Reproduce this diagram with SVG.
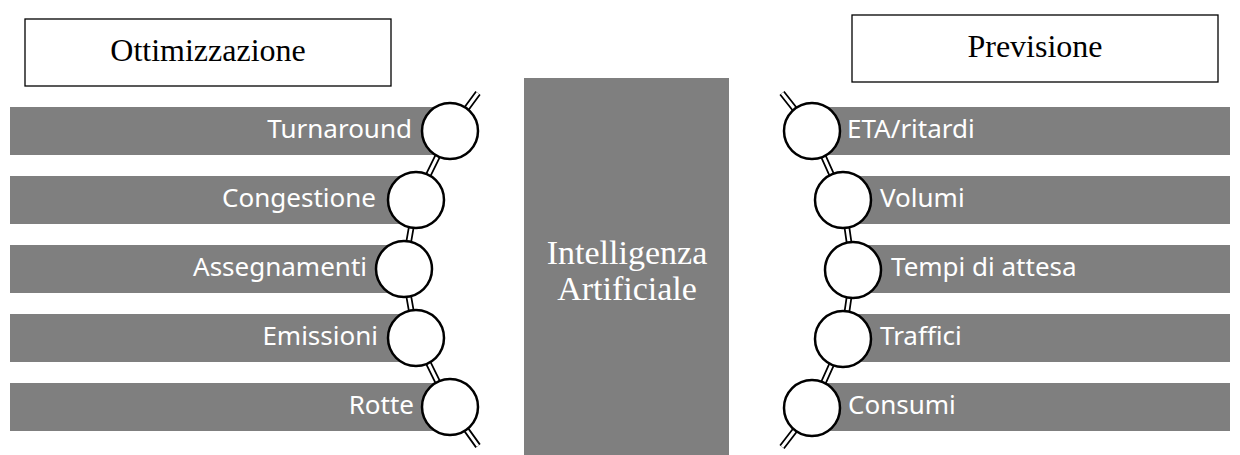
<svg xmlns="http://www.w3.org/2000/svg" width="1240" height="455" viewBox="0 0 1240 455">
<style>
.hdr{fill:#fff;stroke:#000;stroke-width:1.3}
.hdrt{font-family:"Liberation Serif",serif;font-size:32px;fill:#000;text-anchor:middle}
.bar{fill:#7f7f7f}
.lbl{font-family:"Noto Sans","Open Sans",sans-serif;font-size:26px;fill:#fff}
.circ{fill:#fff;stroke:#000;stroke-width:2.5}
.lo{fill:none;stroke:#000;stroke-width:6.5}
.li{fill:none;stroke:#fff;stroke-width:3}
.ai{fill:#7f7f7f}
.ait{font-family:"Liberation Serif",serif;font-size:34px;fill:#fff;text-anchor:middle}
</style>
<rect width="1240" height="455" fill="#fff"/>
<g id="hdr-ottimizzazione"><rect class="hdr" x="25" y="19" width="366" height="67"/><text class="hdrt" x="208" y="61">Ottimizzazione</text></g>
<g id="hdr-previsione"><rect class="hdr" x="852" y="15" width="366" height="67"/><text class="hdrt" x="1035" y="57">Previsione</text></g>
<g id="ai"><rect class="ai" x="524" y="78" width="205" height="380"/><text class="ait" x="627" y="264">Intelligenza</text><text class="ait" x="627" y="300">Artificiale</text></g>
<g id="bars-left">
<g id="turnaround"><rect class="bar" x="10" y="107" width="440" height="48"/><text class="lbl" x="412" y="138" text-anchor="end">Turnaround</text></g>
<g id="congestione"><rect class="bar" x="10" y="176" width="406" height="48"/><text class="lbl" x="376" y="207" text-anchor="end">Congestione</text></g>
<g id="assegnamenti"><rect class="bar" x="10" y="245" width="394" height="48"/><text class="lbl" x="367" y="276" text-anchor="end">Assegnamenti</text></g>
<g id="emissioni"><rect class="bar" x="10" y="314" width="406" height="48"/><text class="lbl" x="378" y="345" text-anchor="end">Emissioni</text></g>
<g id="rotte"><rect class="bar" x="10" y="383" width="440" height="48"/><text class="lbl" x="414" y="414" text-anchor="end">Rotte</text></g>
</g>
<g id="bars-right">
<g id="eta"><rect class="bar" x="812" y="107" width="418" height="48"/><text class="lbl" x="847" y="138">ETA/ritardi</text></g>
<g id="volumi"><rect class="bar" x="843" y="176" width="387" height="48"/><text class="lbl" x="880" y="207">Volumi</text></g>
<g id="tempi"><rect class="bar" x="853" y="245" width="377" height="48"/><text class="lbl" x="891" y="276">Tempi di attesa</text></g>
<g id="traffici"><rect class="bar" x="843" y="314" width="387" height="48"/><text class="lbl" x="880" y="345">Traffici</text></g>
<g id="consumi"><rect class="bar" x="812" y="383" width="418" height="48"/><text class="lbl" x="848" y="414">Consumi</text></g>
</g>
<g id="connectors">
<path class="lo" d="M478,93 L450,131 L416,200 L404,269 L416,338 L450,407 L478,446"/>
<path class="li" d="M478,93 L450,131 L416,200 L404,269 L416,338 L450,407 L478,446"/>
<path class="lo" d="M782,93 L812,131 L843,200 L853,270 L843,339 L812,408 L782,447"/>
<path class="li" d="M782,93 L812,131 L843,200 L853,270 L843,339 L812,408 L782,447"/>
</g>
<g id="circles-left">
<circle class="circ" cx="450" cy="131" r="28"/>
<circle class="circ" cx="416" cy="200" r="28"/>
<circle class="circ" cx="404" cy="269" r="28"/>
<circle class="circ" cx="416" cy="338" r="28"/>
<circle class="circ" cx="450" cy="407" r="28"/>
</g>
<g id="circles-right">
<circle class="circ" cx="812" cy="131" r="28"/>
<circle class="circ" cx="843" cy="200" r="28"/>
<circle class="circ" cx="853" cy="270" r="28"/>
<circle class="circ" cx="843" cy="339" r="28"/>
<circle class="circ" cx="812" cy="408" r="28"/>
</g>
</svg>
